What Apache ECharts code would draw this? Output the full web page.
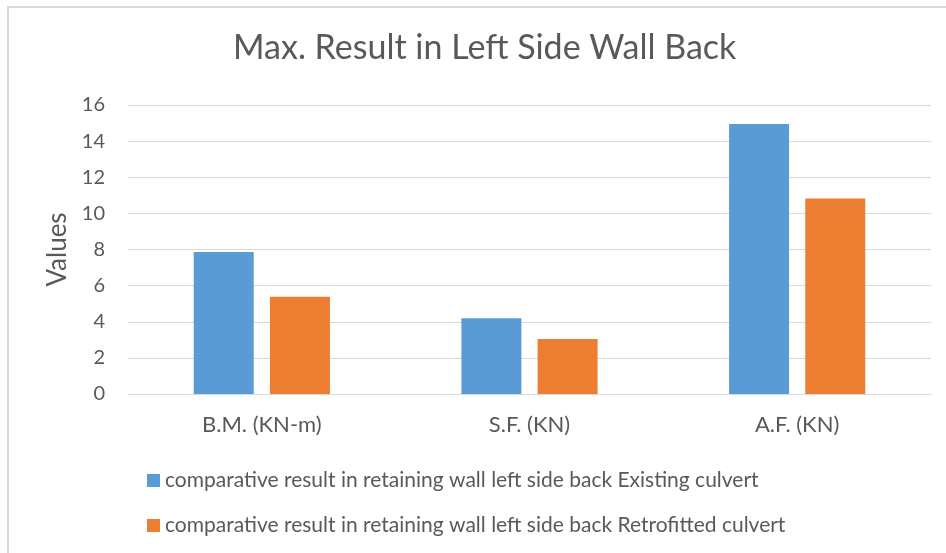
<!DOCTYPE html>
<html>
<head>
<meta charset="utf-8">
<script src="https://cdn.jsdelivr.net/npm/echarts@6/dist/echarts.min.js"></script>
<style>
  html, body { margin: 0; padding: 0; background: #fff; overflow: hidden; }
  #frame { position: absolute; left: 7px; top: 6px; width: 1000px; height: 600px;
           border-top: 2px solid #d9d9d9; border-left: 2px solid #d9d9d9; }
  #chart { position: absolute; left: 0; top: 0; width: 946px; height: 553px; }
</style>
</head>
<body>
<div id="frame"></div>
<div id="chart"></div>
<script>
// data
var categories = ['B.M. (KN-m)', 'S.F. (KN)', 'A.F. (KN)'];
var existing = [7.86, 4.19, 14.95];
var retrofitted = [5.39, 3.04, 10.83];
var seriesNames = [
    'comparative result in retaining wall left side back Existing culvert',
    'comparative result in retaining wall left side back Retrofitted culvert'
];

var chart = echarts.init(document.getElementById('chart'), null, { renderer: 'canvas' });
var textColor = '#595959';
var font = 'Lato, "Open Sans", sans-serif';

var option = {
    backgroundColor: 'transparent',
    animation: false,
    title: {
        text: 'Max. Result in Left Side Wall Back',
        left: 228,
        top: 26,
        textStyle: { fontSize: 34, fontWeight: 'normal', color: textColor, fontFamily: font }
    },
    legend: {
        orient: 'vertical',
        left: 147,
        top: 470,
        padding: 0,
        itemWidth: 13,
        itemHeight: 13,
        itemGap: 24,
        icon: 'rect',
        textStyle: { fontSize: 21, color: textColor, fontFamily: font },
        data: seriesNames
    },
    grid: { left: 128, right: 15, top: 105, bottom: 159 },
    xAxis: {
        type: 'category',
        data: categories,
        axisLine: { lineStyle: { color: '#d9d9d9', width: 1 } },
        axisTick: { show: false },
        axisLabel: { color: textColor, fontSize: 22, fontFamily: font, margin: 20 }
    },
    yAxis: {
        type: 'value',
        min: 0,
        max: 16,
        interval: 2,
        name: 'Values',
        nameLocation: 'middle',
        nameGap: 57,
        nameTextStyle: { fontSize: 26, color: textColor, fontFamily: font },
        axisLine: { show: false },
        axisTick: { show: false },
        axisLabel: { color: textColor, fontSize: 20, fontFamily: font, margin: 23 },
        splitLine: { lineStyle: { color: '#d9d9d9', width: 1 } }
    },
    series: [
        {
            name: seriesNames[0],
            type: 'bar',
            data: existing,
            barWidth: 60,
            barGap: '27%',
            itemStyle: { color: '#5b9bd5' }
        },
        {
            name: seriesNames[1],
            type: 'bar',
            data: retrofitted,
            barWidth: 60,
            itemStyle: { color: '#ed7d31' }
        }
    ]
};

chart.setOption(option);
window.addEventListener('resize', function () { chart.resize(); });
</script>
</body>
</html>
